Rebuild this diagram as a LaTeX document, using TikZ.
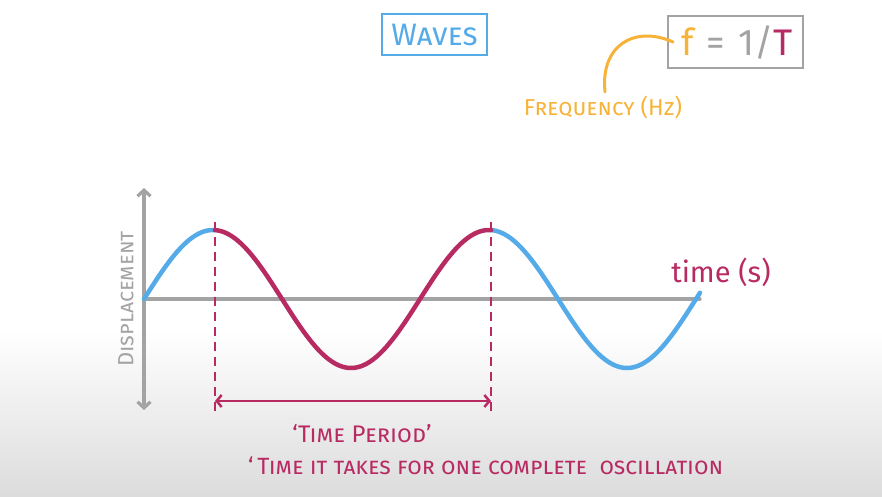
\documentclass[tikz,border=0pt]{standalone}
\usepackage{fontspec}
\setmainfont{Fira Sans}
\usetikzlibrary{arrows.meta}
\definecolor{wblue}{HTML}{55AAE8}
\definecolor{wmag}{HTML}{B82A62}
\definecolor{worange}{HTML}{F7B337}
\definecolor{wgray}{HTML}{A3A3A3}
\definecolor{bgbot}{HTML}{DCDCDC}
\tikzset{
  axisline/.style={draw=wgray, line width=3.2pt, line cap=round},
  bluewave/.style={draw=wblue, line width=4.5pt, line cap=round},
  magwave/.style={draw=wmag, line width=4.5pt, line cap=round},
  guide/.style={draw=wmag, line width=2.7pt, dash pattern=on 9pt off 6pt},
  lbl/.style={inner sep=0pt, font=\scshape},
}
\begin{document}
\begin{tikzpicture}[x=1pt,y=-1pt]
\useasboundingbox (0,0) rectangle (882,497);
\fill[white] (0,0) rectangle (882,330);
\shade[top color=white, bottom color=bgbot] (0,329) rectangle (882,497);
% title
\node[lbl, draw=wblue, line width=2pt, text=wblue, font=\scshape\fontsize{31}{34}\selectfont, minimum width=105pt, minimum height=41pt] (title) at (434.5,34.5) {Waves};
% formula
\node[draw=wgray, line width=2pt, minimum width=135pt, minimum height=52pt, inner sep=0pt, font=\fontsize{37}{40}\selectfont] (formula) at (735.5,42) {\hspace{3pt}\textcolor{worange}{f}\hspace{13pt}\textcolor{wgray}{=\hspace{13pt}1/}\textcolor{wmag}{T}};
\coordinate (fstart) at (673,42);
\node[lbl, text=worange, font=\scshape\fontsize{23}{26}\selectfont] (freq) at (603,107) {Frequency (Hz)};
\draw[draw=worange, line width=3pt, line cap=round] (fstart) .. controls (635,25) and (600,45) .. (605,92);
% axes
\coordinate (origin) at (144,299);
\coordinate (ytop) at (144,188);
\coordinate (ybot) at (144,410);
\coordinate (xend) at (700,299);
\draw[axisline, -{Straight Barb[length=6pt, width=13pt]}] (origin) -- (ytop);
\draw[axisline, -{Straight Barb[length=6pt, width=13pt]}] (origin) -- (ybot);
\draw[axisline] (origin) -- (xend);
\node[lbl, text=wgray, rotate=90, font=\scshape\fontsize{22}{24}\selectfont] (disp) at (126,299) {Displacement};
\node[inner sep=0pt, text=wmag, font=\fontsize{29}{32}\selectfont] (time) at (721,272) {time (s)};
% wave
\draw[bluewave] plot[domain=144:215, samples=40] (\x, {299-69*sin((\x-144)/276*360)});
\draw[bluewave] plot[domain=491:700, samples=80] (\x, {299-69*sin((\x-144)/276*360)});
\draw[magwave] plot[domain=215:491, samples=120] (\x, {299-69*sin((\x-144)/276*360)});
% guides
\coordinate (g1t) at (215,222);
\coordinate (g1b) at (215,412);
\coordinate (g2t) at (491,222);
\coordinate (g2b) at (491,412);
\draw[guide] (g1t) -- (g1b);
\draw[guide] (g2t) -- (g2b);
\coordinate (pa) at (215,401);
\coordinate (pb) at (491,401);
\draw[draw=wmag, line width=2.5pt, {Straight Barb[length=5pt, width=12pt]}-{Straight Barb[length=5pt, width=12pt]}] (pa) -- (pb);
% texts
\node[lbl, text=wmag, font=\scshape\fontsize{24}{28}\selectfont] (tp) at (362,434) {`Time Period'};
\node[lbl, text=wmag, font=\scshape\fontsize{23.5}{26}\selectfont, anchor=west] (def) at (248,466) {`\,Time it takes for one complete\ \ oscillation};
\end{tikzpicture}
\end{document}
